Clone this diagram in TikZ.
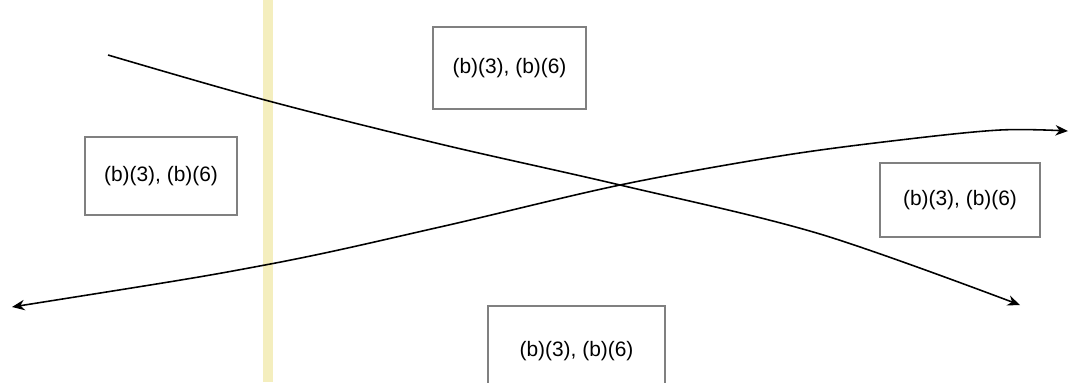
\documentclass[tikz,border=0pt]{standalone}
\usepackage{fontspec}
\setmainfont{Liberation Sans}
\usetikzlibrary{arrows.meta,calc,positioning}
\definecolor{boxgray}{RGB}{128,128,128}
\definecolor{scanstrip}{RGB}{244,238,190}
\tikzset{
    caselabel/.style={draw=boxgray,line width=1.4pt,rectangle,inner sep=0pt,font=\fontsize{10}{12}\selectfont},
    mycurve/.style={line width=0.75pt,draw=black,-{Stealth[length=6pt,width=5pt]}},
}

\begin{document}
\begin{tikzpicture}[x=1.68cm,y=-1.68cm]
          \useasboundingbox (0,0) rectangle (10.78,3.82);
          % streifen vom scan
          \fill[scanstrip] (2.63,0) rectangle (2.73,3.82);
          \node[caselabel,minimum width=1.53*1.68cm,minimum height=0.82*1.68cm] (top) at (5.095,0.68) {(b)(3), (b)(6)};
          \node[caselabel,minimum width=1.52*1.68cm,minimum height=0.78*1.68cm] (left) at (1.61,1.76) {(b)(3), (b)(6)};
          \node[caselabel,minimum width=1.60*1.68cm,minimum height=0.74*1.68cm] (right) at (9.60,2.00) {(b)(3), (b)(6)};
          \node[caselabel,minimum width=1.77*1.68cm,minimum height=0.90*1.68cm] (bottom) at (5.765,3.51) {(b)(3), (b)(6)};
          \coordinate (X) at (6.20,1.85);
          \draw[mycurve] plot[smooth,tension=0.55] coordinates {(1.08,0.55) (2.65,1.00) (4.40,1.44) (X) (8.20,2.34) (10.20,3.05)};
          \draw[mycurve,{Stealth[length=6pt,width=5pt]}-{Stealth[length=6pt,width=5pt]}] plot[smooth,tension=0.55] coordinates {(0.12,3.07) (2.65,2.65) (4.40,2.27) (X) (7.80,1.56) (9.00,1.40) (10.00,1.30) (10.68,1.31)};
        \end{tikzpicture}
\end{document}
